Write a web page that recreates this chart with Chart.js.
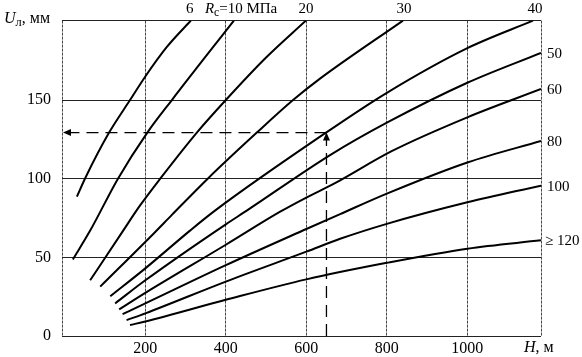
<!DOCTYPE html>
<html><head><meta charset="utf-8">
<script src="https://cdn.jsdelivr.net/npm/chart.js@4"></script>
<style>html,body{margin:0;padding:0;background:#fff;}canvas{display:block;}</style>
</head><body>
<canvas id="c" width="582" height="357"></canvas>
<script>
// axis ranges and ticks
const xRange = [-7, 1183];
const yRange = [0, 200.5];
const xTicks = [200, 400, 600, 800, 1000];
const yTicks = [0, 50, 100, 150];

// curves: H (m) and U (mm), labelled by Rc (MPa)
const curveNames = ['6', '10', '20', '30', '40', '50', '60', '80', '100', '≥ 120'];
const h6 = [30, 50, 110, 162, 200, 253, 313];
const u6 = [88.6, 100, 129.3, 150, 165, 183.6, 200.5];
const h10 = [20, 63, 132, 205, 266, 420];
const u10 = [48.7, 67, 100, 129.3, 150, 200.5];
const h20 = [63, 145, 187, 237, 328, 400, 500, 599];
const u20 = [35.4, 67, 83, 100, 129.3, 150, 177, 200.5];
const h30 = [88, 224, 266, 355, 477, 567, 634, 840];
const u30 = [31.4, 66, 77, 100, 129.3, 150, 163.6, 200.5];
const h40 = [113, 200, 311, 373, 649, 800, 1000, 1163];
const u40 = [25.3, 43, 67, 79.7, 129.3, 154.6, 183, 200.5];
const h50 = [125, 200, 400, 452, 659, 800, 1000, 1183];
const u50 = [20.7, 35.4, 71, 79.7, 115, 135.6, 161, 180];
const h60 = [135, 200, 400, 535, 600, 670, 812, 1000, 1183];
const u60 = [16.9, 27.4, 58, 79, 88, 97, 117.5, 139, 157];
const h80 = [143.5, 200, 400, 600, 684, 800, 1000, 1183];
const u80 = [13.9, 20.7, 45, 68, 77.5, 90.5, 110.3, 124];
const h100 = [153.4, 200, 400, 600, 684, 800, 1000, 1183];
const u100 = [10.1, 14.4, 34.6, 53.6, 61.8, 71.3, 85, 95.6];
const h120 = [162, 200, 400, 600, 800, 1000, 1183];
const u120 = [7, 9.2, 23, 36, 46.5, 55.5, 60.8];

// example reading (dashed arrows)
const readUpH = [650, 650];
const readUpU = [0, 129.3];
const readLeftH = [650, -7];
const readLeftU = [129.3, 129.3];

const curveH = [h6, h10, h20, h30, h40, h50, h60, h80, h100, h120];
const curveU = [u6, u10, u20, u30, u40, u50, u60, u80, u100, u120];
const pts = (hs, us) => hs.map((h, i) => ({x: h, y: us[i]}));

const FONT = "'Liberation Serif', 'Times New Roman', serif";

const datasets = curveH.map((hs, i) => ({
  label: curveNames[i],
  data: pts(hs, curveU[i]),
  borderColor: '#000', borderWidth: 2, pointRadius: 0,
  cubicInterpolationMode: 'monotone', fill: false
}));
datasets.push({label: 'up', data: pts(readUpH, readUpU), borderColor: '#000', borderWidth: 1.3,
  borderDash: [12, 7], pointRadius: 0, tension: 0, fill: false});
datasets.push({label: 'left', data: pts(readLeftH, readLeftU), borderColor: '#000', borderWidth: 1.3,
  borderDash: [12, 7], pointRadius: 0, tension: 0, fill: false});

function drawRich(ctx, parts, x, base, size) {
  let cx = x;
  for (const p of parts) {
    const s = p.sub ? size * 0.78 : size;
    ctx.font = (p.i ? 'italic ' : '') + s + 'px ' + FONT;
    ctx.fillText(p.t, cx, base + (p.sub ? 3 : 0));
    cx += ctx.measureText(p.t).width;
  }
}

const labelPlugin = {
  id: 'labels',
  afterDatasetsDraw(chart) {
    const {ctx, chartArea: a, scales: {x, y}} = chart;
    ctx.save();
    ctx.fillStyle = '#000';
    ctx.textBaseline = 'alphabetic';
    // arrowheads
    const ax = x.getPixelForValue(readUpH[1]), ay = y.getPixelForValue(readUpU[1]);
    ctx.beginPath(); ctx.moveTo(ax, ay); ctx.lineTo(ax - 3.5, ay + 8); ctx.lineTo(ax + 3.5, ay + 8); ctx.closePath(); ctx.fill();
    const lx = x.getPixelForValue(readLeftH[1]), ly = y.getPixelForValue(readLeftU[1]);
    ctx.beginPath(); ctx.moveTo(lx + 1, ly); ctx.lineTo(lx + 9, ly - 3.5); ctx.lineTo(lx + 9, ly + 3.5); ctx.closePath(); ctx.fill();
    // axis titles
    drawRich(ctx, [{t: 'U', i: true}, {t: 'л', sub: true}, {t: ', мм'}], 4, 23, 16);
    drawRich(ctx, [{t: 'H', i: true}, {t: ', м'}], 524, 352, 16);
    // top labels
    const topBase = 13;
    ctx.font = '15px ' + FONT;
    ctx.textAlign = 'center';
    const endX = i => x.getPixelForValue(curveH[i][curveH[i].length - 1]);
    ctx.fillText('6', endX(0) - 1, topBase);
    ctx.fillText('20', endX(2), topBase);
    ctx.fillText('30', endX(3) + 1, topBase);
    ctx.fillText('40', endX(4) + 2, topBase);
    ctx.textAlign = 'left';
    drawRich(ctx, [{t: 'R', i: true}, {t: 'c', sub: true}, {t: '=10 МПа'}], endX(1) - 29, topBase, 15);
    // right labels
    ctx.font = '15px ' + FONT;
    ctx.textBaseline = 'middle';
    for (let i = 5; i < 10; i++) {
      const us = curveU[i];
      const py = y.getPixelForValue(us[us.length - 1]) + 1;
      ctx.fillText(curveNames[i], a.right + (i === 9 ? 4 : 6), py);
    }
    ctx.restore();
  }
};

new Chart(document.getElementById('c'), {
  type: 'line',
  data: {datasets},
  plugins: [labelPlugin],
  options: {
    responsive: false, animation: false, devicePixelRatio: 1,
    layout: {padding: {left: 0, top: 18, right: 41, bottom: 0}},
    plugins: {legend: {display: false}, tooltip: {enabled: false}},
    scales: {
      x: {
        type: 'linear', min: xRange[0], max: xRange[1],
        afterBuildTicks: s => { s.ticks = [xRange[0], ...xTicks, xRange[1]].map(v => ({value: v})); },
        afterFit: s => { s.height = 21; },
        ticks: {autoSkip: false, maxRotation: 0, padding: 3, color: '#000',
          font: {family: FONT, size: 16},
          callback: v => xTicks.includes(v) ? String(v) : ''},
        grid: {color: '#444', lineWidth: 1, drawTicks: false},
        border: {display: false, dash: [3, 1]}
      },
      y: {
        type: 'linear', min: yRange[0], max: yRange[1],
        afterBuildTicks: s => { s.ticks = [...yTicks, yRange[1]].map(v => ({value: v})); },
        afterFit: s => { s.width = 62; },
        ticks: {autoSkip: false, padding: 11, color: '#000',
          font: {family: FONT, size: 16},
          callback: v => yTicks.includes(v) ? String(v) : ''},
        grid: {color: '#222', lineWidth: 1, drawTicks: false},
        border: {display: false}
      }
    }
  }
});
</script>
</body></html>
